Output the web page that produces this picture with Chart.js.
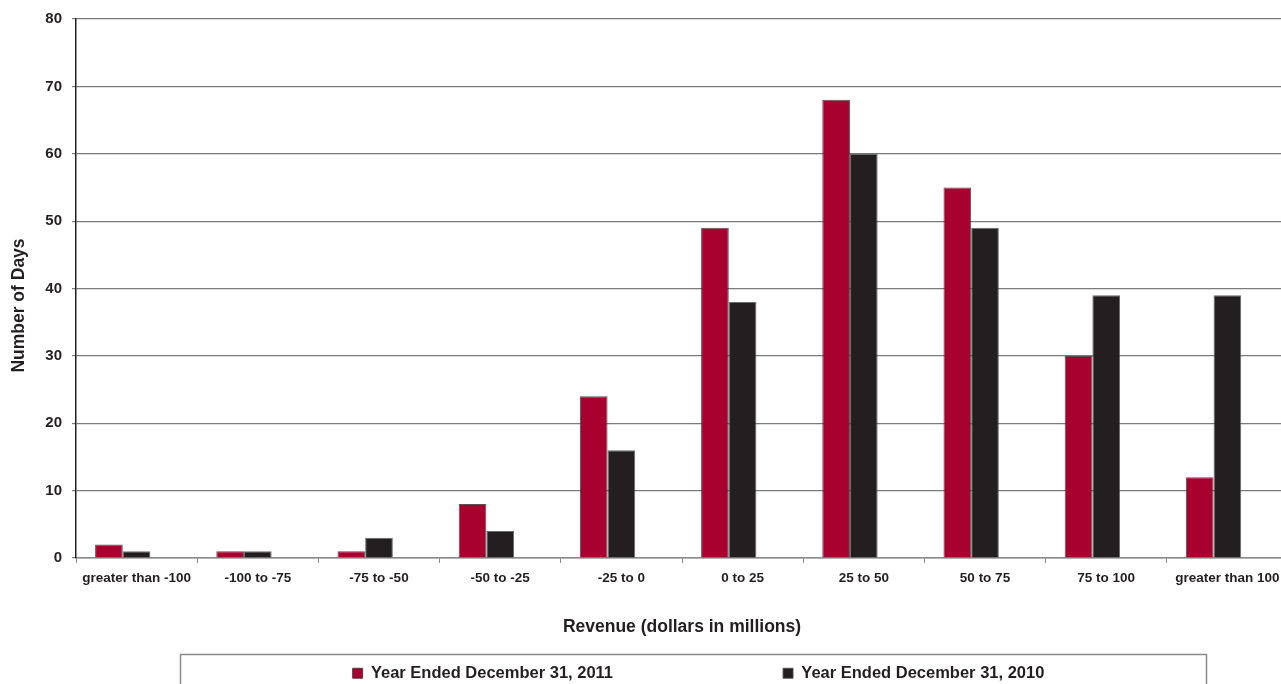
<!DOCTYPE html>
<html>
<head>
<meta charset="utf-8">
<script src="https://cdn.jsdelivr.net/npm/chart.js@4"></script>
<style>
  html, body { margin: 0; padding: 0; background: #ffffff; }
  #wrap { width: 1281px; height: 684px; position: relative; overflow: hidden; }
</style>
</head>
<body>
<div id="wrap"><canvas id="c" width="1281" height="684"></canvas></div>
<script>
const categories = ["greater than -100", "-100 to -75", "-75 to -50", "-50 to -25", "-25 to 0",
  "0 to 25", "25 to 50", "50 to 75", "75 to 100", "greater than 100"];
const series2011 = [2, 1, 1, 8, 24, 49, 68, 55, 30, 12];
const series2010 = [1, 1, 3, 4, 16, 38, 60, 49, 39, 39];
const emptySeries = [null, null, null, null, null, null, null, null, null, null];
const yTicks = [0, 10, 20, 30, 40, 50, 60, 70, 80];
const label2011 = "Year Ended December 31, 2011";
const label2010 = "Year Ended December 31, 2010";
const xTitle = "Revenue (dollars in millions)";
const yTitle = "Number of Days       ";

const TEXT = "#231F20";
const FONT = "'Liberation Sans', Arial, sans-serif";
const LEGEND_PAD = 170;

const layoutAdjust = {
  id: 'layoutAdjust',
  afterLayout(chart) {
    // the plot area of the original runs a few pixels past the right edge of the picture
    const xs = chart.scales.x;
    xs.right += 7; xs.width += 7;
    xs.configure();
    const lg = chart.legend;
    if (!lg) return;
    lg.left += 58; lg.right += 58;
    const itemH = lg._itemHeight || 20;
    lg.top = chart.height - 9 - itemH / 2 - LEGEND_PAD;
    lg.bottom = chart.height;
  },
  afterDraw(chart) {
    const lg = chart.legend;
    if (!lg) return;
    const ctx = chart.ctx;
    const cx = (lg.left + lg.right) / 2;
    ctx.save();
    ctx.strokeStyle = "#8a8a8a";
    ctx.lineWidth = 1.5;
    ctx.strokeRect(Math.round(cx - 519) + 0.5, chart.height - 30 + 0.5, 1026, 60);
    ctx.restore();
  }
};

new Chart(document.getElementById('c'), {
  type: 'bar',
  data: {
    labels: categories,
    datasets: [
      { label: label2011, data: series2011, backgroundColor: "#A8002F", borderColor: "rgba(60,50,52,0.85)", borderWidth: 1 },
      { label: label2010, data: series2010, backgroundColor: "#231F20", borderColor: "rgba(80,80,80,0.85)", borderWidth: 1 },
      { label: "", data: emptySeries, backgroundColor: "rgba(0,0,0,0)", borderWidth: 0 }
    ]
  },
  options: {
    responsive: false,
    animation: false,
    devicePixelRatio: 1,
    categoryPercentage: 0.685,
    barPercentage: 1.0,
    layout: { padding: { top: 17, right: 0, left: 0, bottom: 0 } },
    plugins: {
      tooltip: { enabled: false },
      legend: {
        position: 'bottom',
        maxHeight: 46,
        labels: {
          filter: (item) => item.text !== "",
          boxWidth: 10,
          boxHeight: 10,
          padding: LEGEND_PAD,
          color: TEXT,
          font: { family: FONT, size: 16.5, weight: 'bold' }
        }
      }
    },
    scales: {
      x: {
        grid: { offset: true, drawOnChartArea: false, drawTicks: true, tickLength: 5, color: "#8a8a8a" },
        border: { color: "#8a8a8a", width: 1.5 },
        ticks: { color: TEXT, font: { family: FONT, size: 13.5, weight: 'bold' }, padding: 7, maxRotation: 0, autoSkip: false },
        title: { display: true, text: xTitle, color: TEXT, font: { family: FONT, size: 17.5, weight: 'bold' }, padding: { top: 20, bottom: 0 } },
        afterFit: (s) => { s.height = 80; }
      },
      y: {
        min: 0, max: 80,
        afterBuildTicks: (s) => { s.ticks = yTicks.map(v => ({ value: v })); },
        grid: { color: "#7a7a7a", lineWidth: 1.2, drawTicks: true, tickLength: 4 },
        border: { color: "#231F20", width: 1.5 },
        ticks: { color: TEXT, font: { family: FONT, size: 15, weight: 'bold' }, padding: 10 },
        title: { display: true, text: yTitle, color: TEXT, font: { family: FONT, size: 17.5, weight: 'bold' }, padding: { top: 9, bottom: 0 } },
        afterFit: (s) => { s.width = 76; }
      }
    }
  },
  plugins: [layoutAdjust]
});
</script>
</body>
</html>
